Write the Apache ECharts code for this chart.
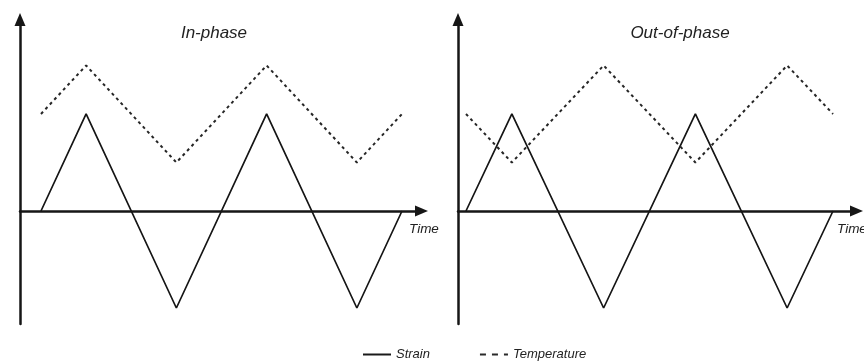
<!DOCTYPE html>
<html>
<head>
<meta charset="utf-8">
<script src="https://cdn.jsdelivr.net/npm/echarts@6/dist/echarts.min.js"></script>
<style>
  html, body { margin: 0; padding: 0; background: #fff; }
  #chart { width: 864px; height: 362px; }
</style>
</head>
<body>
<div id="chart"></div>
<script>
// Time in quarter-cycle units; strain and temperature in normalized amplitude.
const timePoints = [0, 1, 3, 5, 7, 8];
const strainInPhase = [0, 1, -1, 1, -1, 0];
const tempInPhase = [1.0, 1.5, 0.5, 1.5, 0.5, 1.0];
const strainOutPhase = [0, 1, -1, 1, -1, 0];
const tempOutPhase = [1.0, 0.5, 1.5, 0.5, 1.5, 1.0];
const panelTitles = ['In-phase', 'Out-of-phase'];
const axisName = 'Time';
const seriesNames = ['Strain', 'Temperature'];

const pairs = (xs, ys) => xs.map((x, i) => [x, ys[i]]);

const FONT = '"Liberation Sans", Arial, Helvetica, sans-serif';
const INK = '#161616';

const axisLineStyle = { color: INK, width: 2.5 };
const arrow = ['none', 'triangle'];
const arrowSize = [11, 13];

function xAxisFor(gridIndex, min, max) {
  return {
    type: 'value', gridIndex, min, max,
    axisLine: { show: true, onZero: true, symbol: arrow, symbolSize: arrowSize, lineStyle: axisLineStyle },
    axisTick: { show: false }, axisLabel: { show: false }, splitLine: { show: false }
  };
}
function yAxisFor(gridIndex) {
  return {
    type: 'value', gridIndex, min: -1.165, max: 1.974,
    axisLine: { show: true, onZero: false, symbol: arrow, symbolSize: arrowSize, lineStyle: axisLineStyle },
    axisTick: { show: false }, axisLabel: { show: false }, splitLine: { show: false }
  };
}

const strainStyle = { color: '#151515', width: 1.7, type: 'solid' };
const tempStyle = { color: '#262626', width: 2, type: [3, 3.5] };

function lineSeries(name, idx, data, style) {
  return {
    name, type: 'line', xAxisIndex: idx, yAxisIndex: idx,
    data, showSymbol: false, symbol: 'none', silent: true,
    itemStyle: { color: style.color },
    lineStyle: style, z: 3
  };
}

const chart = echarts.init(document.getElementById('chart'), null, { renderer: 'canvas' });
chart.setOption({
  backgroundColor: '#ffffff',
  animation: false,
  grid: [
    { left: 20, top: 19.5, width: 401.5, height: 304.5 },
    { left: 458, top: 19.5, width: 398.5, height: 304.5 }
  ],
  xAxis: [xAxisFor(0, -0.465, 8.432), xAxisFor(1, -0.174, 8.512)],
  yAxis: [yAxisFor(0), yAxisFor(1)],
  legend: {
    left: 362, top: 348, padding: 0, itemWidth: 28, itemHeight: 14, itemGap: 49,
    itemStyle: { opacity: 0 },
    textStyle: { fontFamily: FONT, fontStyle: 'italic', fontSize: 13, color: '#222' },
    data: [
      { name: seriesNames[0], itemStyle: { opacity: 0 }, lineStyle: { width: 2, type: 'solid', color: '#1a1a1a' } },
      { name: seriesNames[1], itemStyle: { opacity: 0 }, lineStyle: { width: 2, type: [6, 6], color: '#2a2a2a' } }
    ]
  },
  series: [
    lineSeries(seriesNames[0], 0, pairs(timePoints, strainInPhase), strainStyle),
    lineSeries(seriesNames[1], 0, pairs(timePoints, tempInPhase), tempStyle),
    lineSeries(seriesNames[0], 1, pairs(timePoints, strainOutPhase), strainStyle),
    lineSeries(seriesNames[1], 1, pairs(timePoints, tempOutPhase), tempStyle)
  ],
  graphic: [
    { type: 'text', x: 214, y: 33, style: { text: panelTitles[0], font: 'italic 17px ' + FONT, fill: '#222', textAlign: 'center', textVerticalAlign: 'middle' } },
    { type: 'text', x: 680, y: 33, style: { text: panelTitles[1], font: 'italic 17px ' + FONT, fill: '#222', textAlign: 'center', textVerticalAlign: 'middle' } },
    { type: 'text', x: 409, y: 229, style: { text: axisName, font: 'italic 13.5px ' + FONT, fill: '#222', textAlign: 'left', textVerticalAlign: 'middle' } },
    { type: 'text', x: 837, y: 229, style: { text: axisName, font: 'italic 13.5px ' + FONT, fill: '#222', textAlign: 'left', textVerticalAlign: 'middle' } }
  ]
});
</script>
</body>
</html>
